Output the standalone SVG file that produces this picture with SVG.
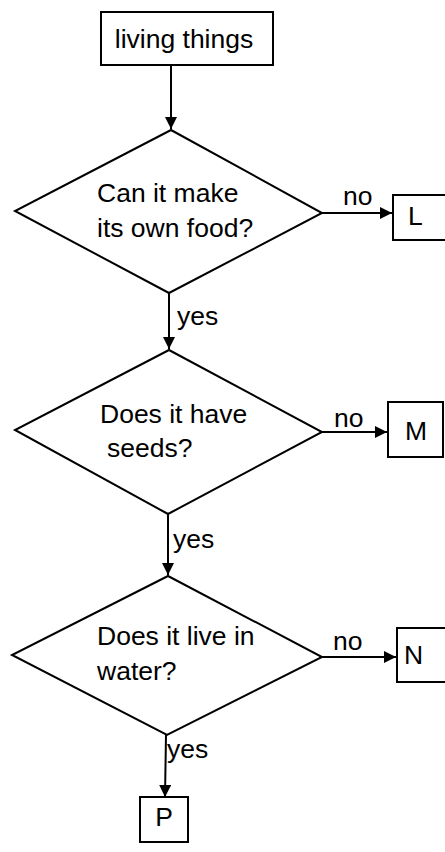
<svg xmlns="http://www.w3.org/2000/svg" width="445" height="852" viewBox="0 0 445 852">
<style>
.shape{fill:#fff;stroke:#000;stroke-width:2}
.t{font-family:"Liberation Sans",Arial,sans-serif;font-size:26.5px;fill:#000}
.c{text-anchor:middle}
.conn line{stroke:#000;stroke-width:2}
</style>
<defs>
<marker id="ah" viewBox="0 0 10 10" refX="10" refY="5" markerWidth="12" markerHeight="12" markerUnits="userSpaceOnUse" orient="auto">
<path d="M0,0 L10,5 L0,10 Z" fill="#000"/>
</marker>
</defs>
<rect width="445" height="852" fill="#fff"/>
<g class="conn">
<line x1="171" y1="65" x2="171" y2="129" marker-end="url(#ah)"/>
<line x1="322" y1="213" x2="392" y2="213" marker-end="url(#ah)"/>
<line x1="169" y1="293" x2="169" y2="349" marker-end="url(#ah)"/>
<line x1="322" y1="432" x2="387" y2="432" marker-end="url(#ah)"/>
<line x1="168" y1="514" x2="168" y2="575" marker-end="url(#ah)"/>
<line x1="322" y1="657" x2="396" y2="657" marker-end="url(#ah)"/>
<line x1="166" y1="735" x2="165" y2="797" marker-end="url(#ah)"/>
<text class="t" x="343" y="205">no</text>
<text class="t" x="177" y="325">yes</text>
<text class="t" x="334" y="427">no</text>
<text class="t" x="173" y="548">yes</text>
<text class="t" x="333" y="650">no</text>
<text class="t" x="167" y="758">yes</text>
</g>
<g id="start">
<rect class="shape" x="101" y="12" width="172" height="53"/>
<text class="t c" x="184" y="48">living things</text>
</g>
<g id="q1">
<polygon class="shape" points="171,130 322,213 169,293 15,211"/>
<text class="t" x="97" y="202">Can it make</text>
<text class="t" x="97" y="237">its own food?</text>
</g>
<g id="L">
<rect class="shape" x="393" y="195" width="60" height="45"/>
<text class="t" x="408" y="225">L</text>
</g>
<g id="q2">
<polygon class="shape" points="169,350 322,432 168,514 15,430"/>
<text class="t" x="100" y="423">Does it have</text>
<text class="t" x="107" y="457">seeds?</text>
</g>
<g id="M">
<rect class="shape" x="388" y="402" width="55" height="55"/>
<text class="t c" x="416" y="440">M</text>
</g>
<g id="q3">
<polygon class="shape" points="168,576 322,657 167,735 12,655"/>
<text class="t" x="97" y="645">Does it live in</text>
<text class="t" x="97" y="680">water?</text>
</g>
<g id="N">
<rect class="shape" x="397" y="628" width="60" height="54"/>
<text class="t" x="404" y="664">N</text>
</g>
<g id="P">
<rect class="shape" x="140" y="797" width="48" height="45"/>
<text class="t c" x="164" y="826">P</text>
</g>
</svg>
